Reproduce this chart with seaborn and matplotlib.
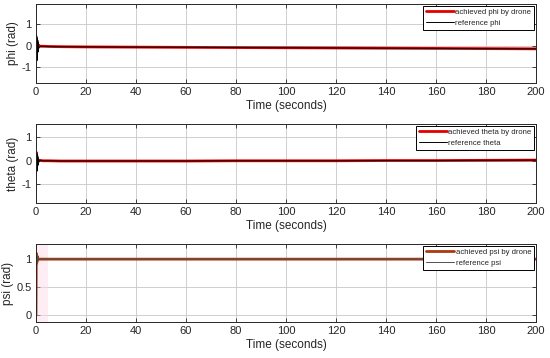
import matplotlib
matplotlib.use('Agg')
import matplotlib.pyplot as plt
import seaborn as sns

# time samples (seconds)
t = [0, 0.1, 0.2, 0.3, 0.4, 0.5, 0.6, 0.7, 0.8, 0.9, 1.0,
     1.5, 2, 3, 5,
     10, 20, 40, 60, 80, 100, 120, 140, 160, 180, 200]

# roll angle phi (rad)
phi_ach = [0, 0.35, -0.3, 0.25, -0.2, 0.15, -0.1, 0.08, -0.06, 0.03, -0.02,
           -0.02, -0.03, -0.03, -0.04,
           -0.05, -0.06, -0.07, -0.08, -0.09, -0.10, -0.11, -0.12, -0.13, -0.14, -0.15]
phi_ref = [0, 0.5, -0.95, 0.45, -0.7, 0.35, -0.5, 0.25, -0.3, 0.15, -0.15,
           -0.05, -0.03, -0.03, -0.04,
           -0.05, -0.06, -0.07, -0.08, -0.09, -0.10, -0.11, -0.12, -0.13, -0.14, -0.15]

# pitch angle theta (rad)
theta_ach = [0, 0.35, -0.2, 0.15, -0.12, 0.08, -0.06, 0.04, -0.03, 0.02, -0.01,
             0.01, 0, -0.01, -0.01,
             -0.02, -0.02, -0.02, -0.02, -0.01, -0.01, -0.01, 0, 0, 0.01, 0.02]
theta_ref = [0, 0.3, -0.6, 0.3, -0.45, 0.25, -0.35, 0.2, -0.2, 0.1, -0.1,
             0.02, 0, -0.01, -0.01,
             -0.02, -0.02, -0.02, -0.02, -0.01, -0.01, -0.01, 0, 0, 0.01, 0.02]

# yaw angle psi (rad)
psi_ach = [0, 0.9, 1.1, 0.93, 1.06, 0.97, 1.03, 0.99, 1.01, 1.0, 1.0,
           1.0, 1.0, 1.0, 1.0,
           1.0, 1.0, 1.0, 1.0, 1.0, 1.0, 1.0, 1.0, 1.0, 1.0, 1.0]
psi_ref = [1.0, 1.08, 0.92, 1.06, 0.95, 1.04, 0.97, 1.02, 0.99, 1.01, 1.0,
           1.0, 1.0, 1.0, 1.0,
           1.0, 1.0, 1.0, 1.0, 1.0, 1.0, 1.0, 1.0, 1.0, 1.0, 1.0]

x_ticks = [0, 20, 40, 60, 80, 100, 120, 140, 160, 180, 200]

sns.set_style('whitegrid')
plt.rcParams['font.family'] = ['Liberation Sans', 'DejaVu Sans']
plt.rcParams['axes.unicode_minus'] = False

fig = plt.figure(figsize=(5.5, 3.58), dpi=100)

W = 550.0
H = 358.0
left = 36 / W
width = 500 / W

panels = [
    # (top px, bottom px, achieved, reference, ylabel, legend labels, ylim, yticks, colors)
    (4, 83, phi_ach, phi_ref, 'phi (rad)',
     ('achieved phi by drone', 'reference phi'), (-1.75, 1.95), [-1, 0, 1],
     ('#e00000', '#000000')),
    (124, 203, theta_ach, theta_ref, 'theta (rad)',
     ('achieved theta by drone', 'reference theta'), (-1.8, 1.55), [-1, 0, 1],
     ('#e00000', '#000000')),
    (244, 322, psi_ach, psi_ref, 'psi (rad)',
     ('achieved psi by drone', 'reference psi'), (-0.12, 1.27), [0, 0.5, 1],
     ('#a83a10', '#505050')),
]

for i, (top, bot, ach, ref, ylab, labs, ylim, yt, cols) in enumerate(panels):
    ax = fig.add_axes([left, 1 - bot / H, width, (bot - top) / H])
    if i == 2:
        ax.axvspan(0, 4.8, color='#ffd8e8', alpha=0.45, lw=0)
        ax.plot([0, 0], [0, 1], color='#e08a00', lw=1.2)
    sns.lineplot(x=t, y=ach, ax=ax, color=cols[0], lw=2, label=labs[0])
    sns.lineplot(x=t, y=ref, ax=ax, color=cols[1], lw=0.7, label=labs[1])
    ax.set_xlim(0, 200)
    ax.set_ylim(*ylim)
    ax.set_xticks(x_ticks)
    ax.set_yticks(yt)
    ax.set_yticklabels([f'{v:g}' for v in yt])
    ax.set_xlabel('Time (seconds)', fontsize=8.5, color='#262626', labelpad=2)
    ax.set_ylabel(ylab, fontsize=8.5, color='#262626', labelpad=2)
    ax.tick_params(axis='both', labelsize=8, colors='#262626', direction='in',
                   length=3, width=0.6, pad=3)
    ax.tick_params(top=True, right=True, bottom=True, left=True)
    ax.grid(True, color='#c8c8c8', lw=0.6)
    for s in ax.spines.values():
        s.set_color('#262626')
        s.set_linewidth(0.7)
    leg = ax.legend(loc='upper right', bbox_to_anchor=(1, 1), borderaxespad=0.25,
                    fontsize=5.6, frameon=True, fancybox=False, handlelength=3.6,
                    handletextpad=0.2, borderpad=0.35, labelspacing=0.45)
    leg.get_frame().set_edgecolor('#000000')
    leg.get_frame().set_linewidth(0.7)
    leg.get_frame().set_alpha(1)

fig.savefig('out.png', dpi=100)
